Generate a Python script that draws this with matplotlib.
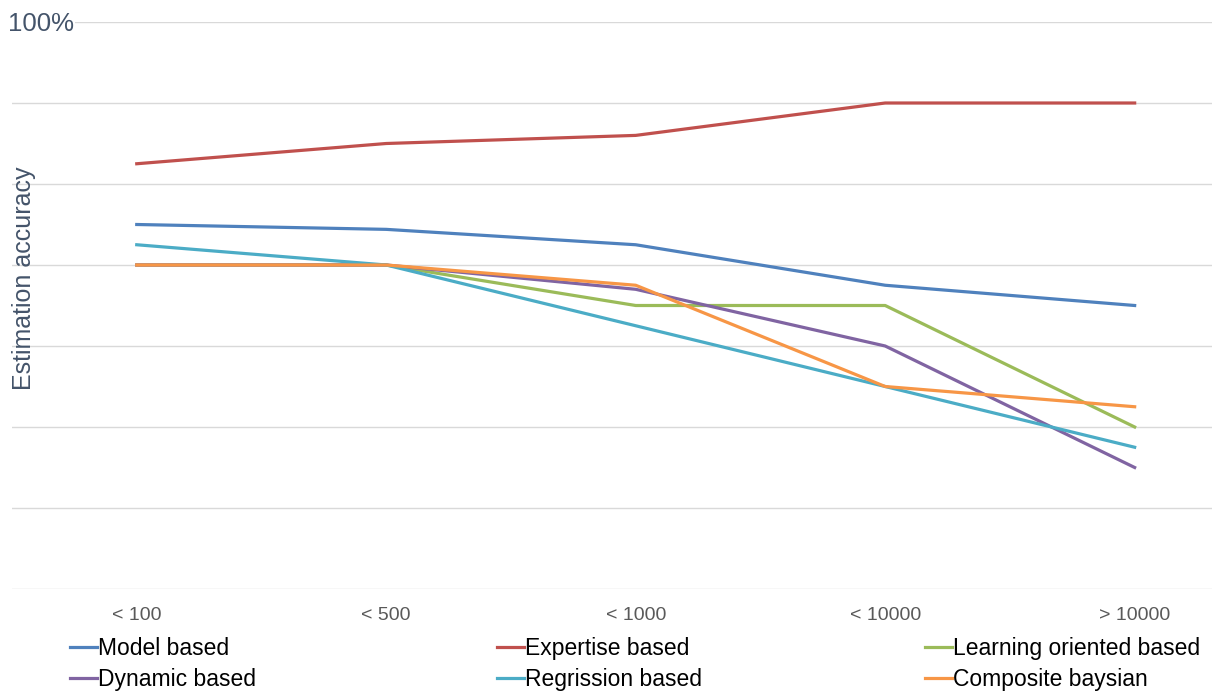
import numpy as np
import matplotlib.pyplot as plt

plt.rcParams['font.family'] = ['Liberation Sans', 'DejaVu Sans']

categories = ['< 100', '< 500', '< 1000', '< 10000', '> 10000']
model_based = [75, 74.4, 72.5, 67.5, 65]
expertise_based = [82.5, 85, 86, 90, 90]
learning_based = [70, 70, 65, 65, 50]
dynamic_based = [70, 70, 67, 60, 45]
regression_based = [72.5, 70, 62.5, 55, 47.5]
composite_baysian = [70, 70, 67.5, 55, 52.5]

series = [
    ('Model based', model_based, '#4F81BD'),
    ('Expertise based', expertise_based, '#C0504D'),
    ('Learning oriented based', learning_based, '#9BBB59'),
    ('Dynamic based', dynamic_based, '#8064A2'),
    ('Regrission based', regression_based, '#4BACC6'),
    ('Composite baysian', composite_baysian, '#F79646'),
]

W, H = 1216, 693
fig = plt.figure(figsize=(W / 100, H / 100), dpi=100)
ax = fig.add_axes([12 / W, 1 - 589 / H, 1200 / W, (589 - 22) / H])

x = np.arange(len(categories))
handles = {}
for name, vals, col in series:
    ln, = ax.plot(x, vals, color=col, lw=2.3, solid_joinstyle='round', zorder=3)
    handles[name] = ln

ax.set_xlim(-0.5, 4.31)
ax.set_ylim(30, 100)
ax.set_yticks(np.arange(30, 101, 10))
ax.set_yticklabels([])
ax.tick_params(axis='y', length=0)
ax.grid(axis='y', color='#D9D9D9', lw=1)
ax.set_axisbelow(True)
for s in ax.spines.values():
    s.set_visible(False)
ax.set_xticks(x)
ax.set_xticklabels(categories, fontsize=14, color='#595959')
ax.tick_params(axis='x', length=0, pad=13)

fig.text(8 / W, 1 - 24 / H, '100%', fontsize=18.5, color='#44546A', ha='left', va='center',
         bbox=dict(facecolor='white', edgecolor='none', pad=1))
fig.text(24 / W, 1 - 278 / H, 'Estimation accuracy', fontsize=18, color='#44546A',
         rotation=90, ha='center', va='center')

cols = [(0, 3), (1, 4), (2, 5)]
xs = [70, 497, 925]
for (a, b), x0 in zip(cols, xs):
    hs = [handles[series[a][0]], handles[series[b][0]]]
    labs = [series[a][0], series[b][0]]
    fig.legend(hs, labs, loc='upper left', bbox_to_anchor=(x0 / W, 1 - 637 / H),
               frameon=False, fontsize=16.5, handlelength=1.18, handletextpad=0.05,
               labelspacing=0.33, borderpad=0, borderaxespad=0)

fig.savefig('out.png', dpi=100)
